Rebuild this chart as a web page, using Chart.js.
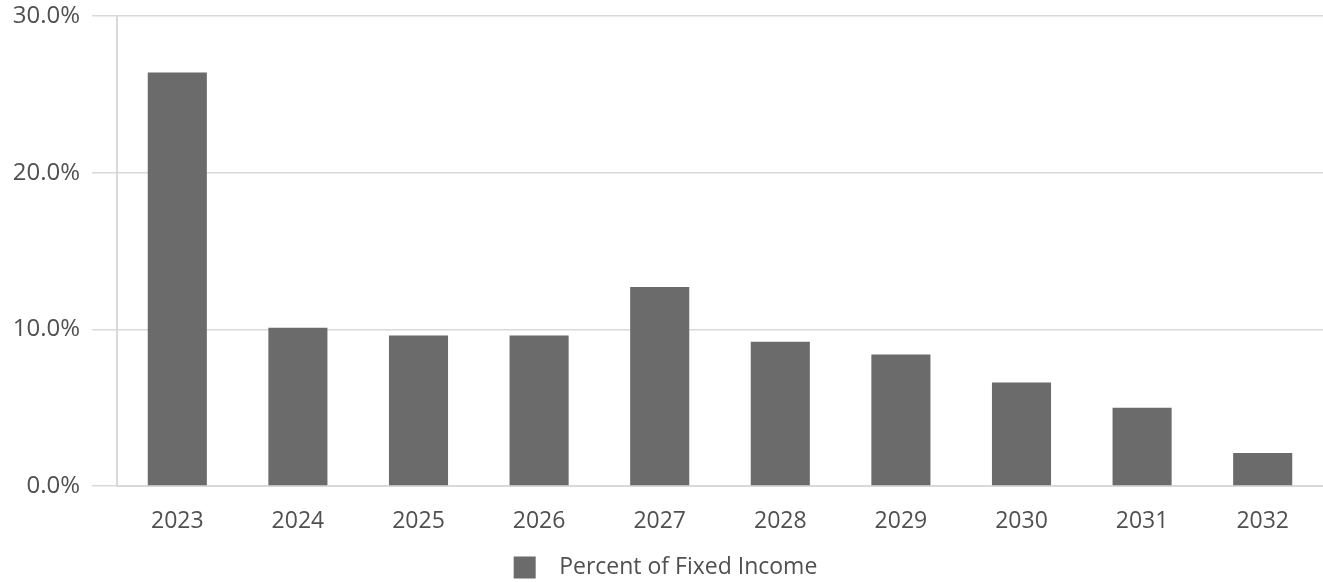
<!DOCTYPE html>
<html>
<head>
<meta charset="utf-8">
<script src="https://cdn.jsdelivr.net/npm/chart.js@4.4.1/dist/chart.umd.min.js"></script>
<style>
    html, body { margin: 0; padding: 0; background: #ffffff; }
    #wrap { width: 1323px; height: 582px; }
</style>
</head>
<body>
<div id="wrap"><canvas id="chart"></canvas></div>
<script>
// Values (percent)
const years = ['2023', '2024', '2025', '2026', '2027', '2028', '2029', '2030', '2031', '2032'];
const percentFixedIncome = [26.4, 10.1, 9.6, 9.6, 12.7, 9.2, 8.4, 6.6, 5.0, 2.1];
const seriesLabel = 'Percent of Fixed Income';

const textColor = '#505050';
const gridColor = '#d9d9d9';
const barColor = '#6b6b6b';
const fontFamily = '"Open Sans", "DejaVu Sans", sans-serif';

// keeps the legend strip short so the swatch sits near the bottom edge
const compactLegend = {
    id: 'compactLegend',
    beforeLayout(chart) {
        const legend = chart.legend;
        if (!legend || legend._compact) return;
        const origFit = legend.fit;
        legend.fit = function () {
            origFit.call(this);
            this.height = 30;
        };
        legend._compact = true;
    }
};

const ctx = document.getElementById('chart').getContext('2d');

new Chart(ctx, {
    type: 'bar',
    data: {
        labels: years,
        datasets: [{
            label: seriesLabel,
            data: percentFixedIncome,
            backgroundColor: barColor,
            borderWidth: 0,
            categoryPercentage: 1.0,
            barPercentage: 0.49
        }]
    },
    options: {
        responsive: true,
        maintainAspectRatio: false,
        animation: false,
        layout: {
            padding: { left: 8, right: 0, top: 0, bottom: 0 }
        },
        plugins: {
            legend: {
                position: 'bottom',
                padding: 0,
                labels: {
                    color: textColor,
                    boxWidth: 22,
                    boxHeight: 22,
                    padding: 4,
                    font: { family: fontFamily, size: 23 },
                    // wider gap between swatch and text, as in the reference
                    generateLabels: (chart) => {
                        const items = Chart.defaults.plugins.legend.labels.generateLabels(chart);
                        items.forEach(it => { it.text = '  ' + it.text; });
                        return items;
                    }
                }
            },
            tooltip: { enabled: false }
        },
        scales: {
            x: {
                grid: { display: false, drawTicks: false },
                border: { color: gridColor, width: 2 },
                ticks: {
                    color: textColor,
                    padding: 22,
                    font: { family: fontFamily, size: 23 }
                },
                afterFit: (scale) => { scale.height = 66; }
            },
            y: {
                min: 0,
                max: 30,
                afterFit: (scale) => {
                    scale.width = 109;
                    scale.paddingTop = 16;
                },
                grid: {
                    color: gridColor,
                    lineWidth: 1.5,
                    tickLength: 25
                },
                border: { color: gridColor, width: 2 },
                ticks: {
                    stepSize: 10,
                    color: textColor,
                    padding: 12,
                    font: { family: fontFamily, size: 24 },
                    callback: (v) => v.toFixed(1) + '%'
                }
            }
        }
    },
    plugins: [compactLegend]
});
</script>
</body>
</html>
